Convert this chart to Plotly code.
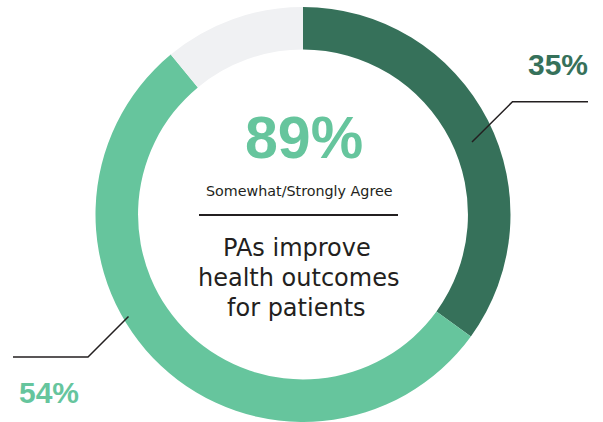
import plotly.graph_objects as go

W, H = 603, 422

labels = ["Strongly Agree", "Somewhat Agree", "Other"]
values = [35, 54, 11]
colors = ["#36715a", "#66c59d", "#f0f1f3"]

headline = "89%"
subtitle = "Somewhat/Strongly Agree"
statement = ["PAs improve", "health outcomes", "for patients"]
slice_labels = ["35%", "54%"]

TEXT = "#231f20"
BODY = "DejaVu Sans"
BOLD = "Liberation Sans"


def px(x):
    return x / W


def py(y):
    return 1 - y / H


fig = go.Figure(
    go.Pie(
        labels=labels,
        values=values,
        marker=dict(colors=colors, line=dict(width=0)),
        hole=0.795,
        sort=False,
        direction="clockwise",
        rotation=0,
        textinfo="none",
        hoverinfo="skip",
        showlegend=False,
        domain=dict(x=[px(3), 1], y=[0, py(7)]),
    )
)

annotations = [
    dict(x=px(304), y=py(138.0), text=f"<b>{headline}</b>",
         font=dict(family=BOLD, size=59, color=colors[1])),
    dict(x=px(299), y=py(191.3), text=subtitle,
         font=dict(family=BODY, size=14.3, color=TEXT)),
    dict(x=px(297), y=py(248.4), text=statement[0],
         font=dict(family=BODY, size=24, color=TEXT)),
    dict(x=px(298.5), y=py(277.8), text=statement[1],
         font=dict(family=BODY, size=24, color=TEXT)),
    dict(x=px(296.7), y=py(308.4), text=statement[2],
         font=dict(family=BODY, size=24, color=TEXT)),
    dict(x=px(558), y=py(64.6), text=f"<b>{slice_labels[0]}</b>",
         font=dict(family=BOLD, size=30, color=colors[0])),
    dict(x=px(48.5), y=py(392.6), text=f"<b>{slice_labels[1]}</b>",
         font=dict(family=BOLD, size=30, color=colors[1])),
]
for a in annotations:
    a.update(xref="paper", yref="paper", xanchor="center", yanchor="middle",
             showarrow=False)

shapes = [
    dict(type="line", xref="paper", yref="paper",
         x0=px(199), x1=px(398), y0=py(215), y1=py(215),
         line=dict(color=TEXT, width=2)),
    dict(type="path", xref="paper", yref="paper",
         path=f"M {px(472)} {py(142)} L {px(512.5)} {py(101.7)} L {px(588)} {py(101.7)}",
         line=dict(color=TEXT, width=1.5)),
    dict(type="path", xref="paper", yref="paper",
         path=f"M {px(128.5)} {py(316.5)} L {px(88)} {py(357)} L {px(13)} {py(357)}",
         line=dict(color=TEXT, width=1.5)),
]

fig.update_layout(
    width=W,
    height=H,
    margin=dict(l=0, r=0, t=0, b=0),
    paper_bgcolor="white",
    plot_bgcolor="white",
    annotations=annotations,
    shapes=shapes,
)

fig.write_html(
    "out.html",
    config={"displayModeBar": False},
    post_script="document.body.style.margin='0';document.body.style.overflow='hidden';",
)
